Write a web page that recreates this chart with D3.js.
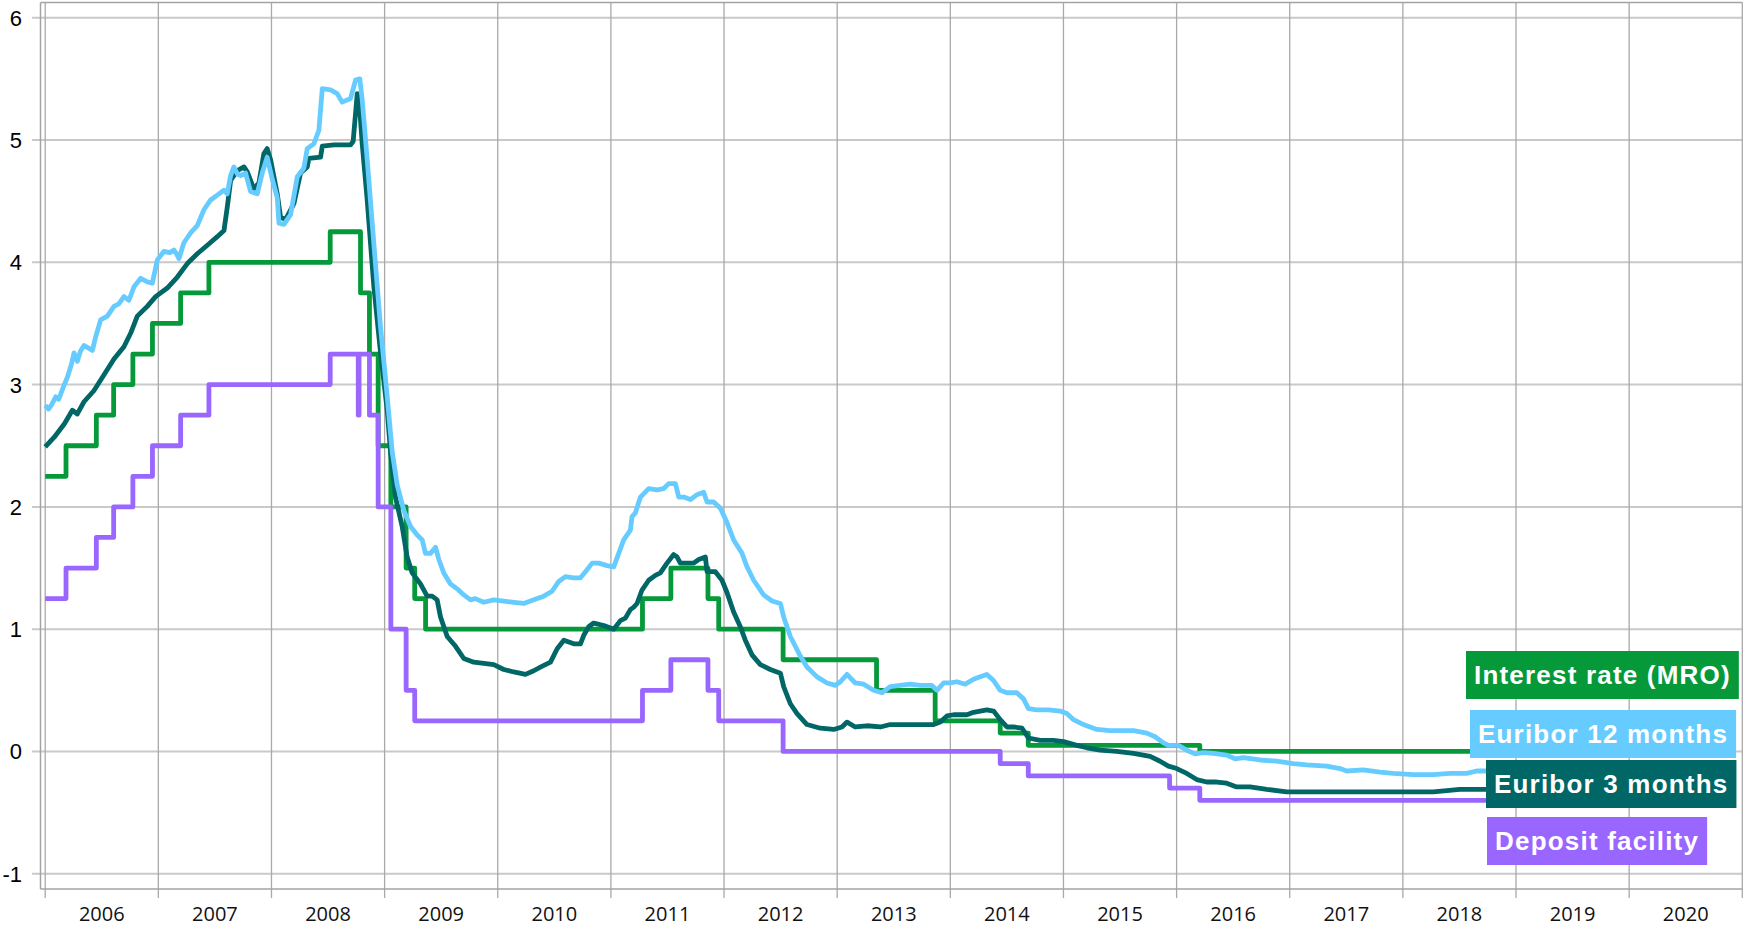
<!DOCTYPE html>
<html><head><meta charset="utf-8">
<script src="https://cdn.jsdelivr.net/npm/d3@7"></script>
<style>html,body{margin:0;padding:0;background:#fff;overflow:hidden}</style>
</head><body>
<svg id="chart" width="1743" height="929"></svg>
<script>
// ---------- data ----------
const yearLabels = [2006,2007,2008,2009,2010,2011,2012,2013,2014,2015,2016,2017,2018,2019,2020];
const yTicks = [-1,0,1,2,3,4,5,6];
const seriesNames = ["Interest rate (MRO)","Euribor 12 months","Euribor 3 months","Deposit facility"];
const seriesColors = ["#05993a","#66ccff","#006666","#9966ff"];

// Main refinancing operations rate (step changes: [decimal year, %])
const mroSteps = [[2006.0,2.25],[2006.184,2.50],[2006.452,2.75],[2006.605,3.00],[2006.775,3.25],[2006.948,3.50],
 [2007.197,3.75],[2007.447,4.00],[2008.519,4.25],[2008.787,3.75],[2008.866,3.25],[2008.943,2.50],[2009.055,2.00],
 [2009.19,1.50],[2009.266,1.25],[2009.362,1.00],[2011.279,1.25],[2011.53,1.50],[2011.858,1.25],[2011.953,1.00],
 [2012.522,0.75],[2013.348,0.50],[2013.866,0.25],[2014.441,0.15],[2014.689,0.05],[2016.205,0.00],[2018.9,0.00]];

// Deposit facility rate (step changes)
const depositSteps = [[2006.0,1.25],[2006.184,1.50],[2006.452,1.75],[2006.605,2.00],[2006.775,2.25],[2006.948,2.50],
 [2007.197,2.75],[2007.447,3.00],[2008.519,3.25],[2008.767,2.75],[2008.774,3.25],[2008.866,2.75],[2008.943,2.00],
 [2009.055,1.00],[2009.19,0.50],[2009.266,0.25],[2011.279,0.50],[2011.53,0.75],[2011.858,0.50],[2011.953,0.25],
 [2012.522,0.00],[2014.441,-0.10],[2014.689,-0.20],[2015.938,-0.30],[2016.205,-0.40],[2018.9,-0.40]];

// Euribor 12 months
const euribor12 = [[2006.0,2.83],[2006.03,2.80],[2006.06,2.84],[2006.093,2.90],[2006.12,2.88],[2006.16,2.98],[2006.196,3.06],
 [2006.23,3.16],[2006.255,3.26],[2006.284,3.19],[2006.31,3.27],[2006.343,3.32],[2006.38,3.30],[2006.417,3.28],[2006.446,3.39],
 [2006.49,3.53],[2006.549,3.56],[2006.608,3.64],[2006.65,3.66],[2006.696,3.72],[2006.74,3.69],[2006.785,3.80],[2006.844,3.87],
 [2006.902,3.84],[2006.947,3.83],[2006.991,4.02],[2007.05,4.09],[2007.10,4.08],[2007.138,4.10],[2007.16,4.07],[2007.182,4.03],
 [2007.226,4.16],[2007.285,4.24],[2007.344,4.30],[2007.403,4.43],[2007.462,4.51],[2007.521,4.55],[2007.58,4.59],[2007.609,4.56],
 [2007.639,4.71],[2007.668,4.78],[2007.70,4.72],[2007.727,4.71],[2007.771,4.73],[2007.815,4.58],[2007.874,4.56],[2007.918,4.73],
 [2007.962,4.86],[2008.007,4.68],[2008.051,4.53],[2008.066,4.32],[2008.11,4.31],[2008.169,4.39],[2008.228,4.70],[2008.286,4.77],
 [2008.316,4.93],[2008.375,4.97],[2008.419,5.08],[2008.449,5.42],[2008.522,5.41],[2008.581,5.38],[2008.625,5.31],[2008.699,5.34],
 [2008.743,5.49],[2008.781,5.50],[2008.802,5.33],[2008.846,4.84],[2008.905,4.15],[2008.964,3.47],[2009.023,2.90],[2009.067,2.45],
 [2009.111,2.18],[2009.17,1.97],[2009.229,1.84],[2009.288,1.77],[2009.332,1.73],[2009.361,1.62],[2009.405,1.62],[2009.45,1.67],
 [2009.479,1.57],[2009.523,1.46],[2009.582,1.37],[2009.641,1.33],[2009.70,1.28],[2009.759,1.24],[2009.80,1.25],[2009.877,1.22],
 [2009.965,1.24],[2010.053,1.23],[2010.142,1.22],[2010.23,1.21],[2010.318,1.24],[2010.407,1.27],[2010.48,1.31],[2010.539,1.39],
 [2010.598,1.43],[2010.672,1.42],[2010.731,1.42],[2010.775,1.47],[2010.834,1.54],[2010.893,1.54],[2010.966,1.52],[2011.025,1.51],
 [2011.069,1.62],[2011.113,1.73],[2011.172,1.81],[2011.187,1.92],[2011.216,1.95],[2011.261,2.08],[2011.334,2.15],[2011.408,2.14],
 [2011.467,2.15],[2011.511,2.19],[2011.57,2.19],[2011.60,2.08],[2011.644,2.08],[2011.703,2.06],[2011.761,2.10],[2011.82,2.12],
 [2011.85,2.04],[2011.908,2.04],[2011.967,1.99],[2012.027,1.87],[2012.085,1.73],[2012.159,1.62],[2012.203,1.51],[2012.262,1.40],
 [2012.35,1.28],[2012.424,1.23],[2012.498,1.21],[2012.527,1.10],[2012.586,0.94],[2012.674,0.78],[2012.733,0.69],[2012.822,0.61],
 [2012.91,0.56],[2012.984,0.54],[2013.028,0.57],[2013.087,0.63],[2013.16,0.56],[2013.234,0.55],[2013.322,0.50],[2013.396,0.48],
 [2013.469,0.53],[2013.558,0.54],[2013.646,0.55],[2013.734,0.54],[2013.837,0.54],[2013.882,0.50],[2013.941,0.56],[2014.0,0.56],
 [2014.058,0.57],[2014.132,0.55],[2014.205,0.59],[2014.264,0.61],[2014.323,0.63],[2014.382,0.58],[2014.441,0.50],[2014.50,0.48],
 [2014.588,0.48],[2014.647,0.43],[2014.691,0.35],[2014.765,0.34],[2014.868,0.34],[2014.971,0.33],[2015.03,0.31],[2015.089,0.26],
 [2015.177,0.22],[2015.295,0.18],[2015.413,0.17],[2015.531,0.17],[2015.62,0.17],[2015.736,0.15],[2015.81,0.12],[2015.884,0.07],
 [2015.928,0.05],[2016.016,0.05],[2016.09,0.01],[2016.163,-0.02],[2016.237,-0.01],[2016.325,-0.015],[2016.443,-0.03],
 [2016.517,-0.06],[2016.59,-0.05],[2016.738,-0.07],[2016.885,-0.08],[2017.032,-0.10],[2017.15,-0.11],[2017.326,-0.12],
 [2017.444,-0.14],[2017.503,-0.16],[2017.65,-0.15],[2017.798,-0.17],[2017.915,-0.18],[2018.092,-0.19],[2018.269,-0.19],
 [2018.416,-0.18],[2018.563,-0.18],[2018.651,-0.16],[2018.74,-0.16],[2018.9,-0.15]];

// Euribor 3 months
const euribor3 = [[2006.0,2.49],[2006.08,2.57],[2006.17,2.68],[2006.24,2.79],[2006.284,2.76],[2006.343,2.86],[2006.43,2.95],
 [2006.52,3.08],[2006.608,3.21],[2006.696,3.31],[2006.755,3.42],[2006.814,3.56],[2006.902,3.64],[2006.976,3.72],[2007.079,3.79],
 [2007.168,3.88],[2007.256,3.99],[2007.344,4.07],[2007.433,4.14],[2007.521,4.21],[2007.58,4.26],[2007.609,4.45],[2007.639,4.67],
 [2007.698,4.75],[2007.757,4.78],[2007.786,4.74],[2007.845,4.60],[2007.889,4.65],[2007.933,4.89],[2007.962,4.93],[2007.992,4.84],
 [2008.051,4.56],[2008.08,4.37],[2008.124,4.35],[2008.198,4.48],[2008.257,4.73],[2008.316,4.78],[2008.331,4.85],[2008.434,4.86],
 [2008.449,4.95],[2008.552,4.96],[2008.699,4.96],[2008.722,4.99],[2008.758,5.38],[2008.779,5.27],[2008.802,4.97],[2008.846,4.51],
 [2008.905,3.80],[2008.964,3.26],[2009.023,2.79],[2009.055,2.42],[2009.096,2.08],[2009.155,1.84],[2009.199,1.59],[2009.244,1.46],
 [2009.317,1.37],[2009.376,1.27],[2009.42,1.27],[2009.464,1.24],[2009.494,1.10],[2009.553,0.94],[2009.627,0.86],[2009.70,0.76],
 [2009.788,0.73],[2009.877,0.72],[2009.965,0.71],[2010.053,0.67],[2010.142,0.65],[2010.245,0.63],[2010.318,0.66],[2010.377,0.69],
 [2010.466,0.73],[2010.525,0.84],[2010.584,0.91],[2010.672,0.88],[2010.731,0.88],[2010.76,0.95],[2010.804,1.02],[2010.848,1.05],
 [2010.937,1.03],[2010.996,1.01],[2011.025,1.00],[2011.084,1.07],[2011.128,1.09],[2011.172,1.16],[2011.202,1.18],[2011.231,1.21],
 [2011.275,1.32],[2011.334,1.40],[2011.393,1.44],[2011.437,1.46],[2011.496,1.54],[2011.555,1.61],[2011.585,1.59],[2011.614,1.54],
 [2011.673,1.54],[2011.732,1.54],[2011.776,1.57],[2011.835,1.59],[2011.85,1.47],[2011.923,1.47],[2011.982,1.40],[2012.026,1.30],
 [2012.085,1.14],[2012.144,1.02],[2012.188,0.91],[2012.247,0.79],[2012.321,0.71],[2012.409,0.67],[2012.498,0.64],[2012.527,0.53],
 [2012.586,0.39],[2012.645,0.31],[2012.733,0.22],[2012.851,0.19],[2012.969,0.18],[2013.042,0.20],[2013.087,0.24],[2013.16,0.20],
 [2013.263,0.21],[2013.381,0.20],[2013.469,0.22],[2013.587,0.22],[2013.734,0.22],[2013.852,0.22],[2013.911,0.24],[2013.97,0.29],
 [2014.029,0.30],[2014.147,0.30],[2014.205,0.32],[2014.264,0.33],[2014.323,0.34],[2014.382,0.33],[2014.441,0.26],[2014.50,0.20],
 [2014.559,0.20],[2014.633,0.19],[2014.691,0.11],[2014.794,0.09],[2014.912,0.09],[2015.001,0.08],[2015.118,0.05],[2015.207,0.03],
 [2015.325,0.01],[2015.471,0.00],[2015.619,-0.015],[2015.766,-0.04],[2015.854,-0.08],[2015.928,-0.12],[2016.001,-0.14],
 [2016.09,-0.18],[2016.178,-0.23],[2016.266,-0.25],[2016.355,-0.25],[2016.443,-0.26],[2016.531,-0.29],[2016.649,-0.29],
 [2016.797,-0.31],[2016.973,-0.33],[2017.15,-0.33],[2017.385,-0.33],[2017.68,-0.33],[2017.974,-0.33],[2018.269,-0.33],
 [2018.504,-0.31],[2018.71,-0.31],[2018.9,-0.31]];

// ---------- drawing ----------
const svg = d3.select("#chart");
const x = d3.scaleLinear().domain([2006, 2021]).range([45.2, 1742.3]);
const y = d3.scaleLinear().domain([-1.125, 6.125]).range([889, 2.5]);
const plotLeft = 40.5, plotRight = x(2021), plotTop = y(6.125), plotBottom = y(-1.125);

// horizontal grid + y ticks
svg.append("g").selectAll("line").data(yTicks).join("line")
  .attr("x1", 32).attr("x2", plotRight)
  .attr("y1", d => y(d)).attr("y2", d => y(d))
  .attr("stroke", "#c9c9c9").attr("stroke-width", 2);

// vertical grid + x ticks
svg.append("g").selectAll("line").data(d3.range(2006, 2022)).join("line")
  .attr("x1", d => x(d)).attr("x2", d => x(d))
  .attr("y1", plotTop).attr("y2", plotBottom + 9)
  .attr("stroke", "#a9a9a9").attr("stroke-width", 1.3);

// frame: left axis, bottom axis, top border
const frame = svg.append("g").attr("stroke", "#a3a3a3").attr("stroke-width", 1.5);
frame.append("line").attr("x1", plotLeft).attr("x2", plotLeft).attr("y1", plotTop).attr("y2", plotBottom);
frame.append("line").attr("x1", plotLeft).attr("x2", plotRight).attr("y1", plotBottom).attr("y2", plotBottom);
frame.append("line").attr("x1", plotLeft).attr("x2", plotRight).attr("y1", plotTop).attr("y2", plotTop);

// y labels
svg.append("g").selectAll("text").data(yTicks).join("text")
  .attr("x", 22).attr("y", d => y(d)).attr("dy", "0.36em")
  .attr("text-anchor", "end")
  .style("font-family", "'Liberation Sans', Arial, sans-serif").style("font-size", "22px").attr("fill", "#000")
  .text(d => d);

// x labels (centred in each year)
svg.append("g").selectAll("text").data(yearLabels).join("text")
  .attr("x", d => x(d + 0.5)).attr("y", 921)
  .attr("text-anchor", "middle")
  .style("font-family", "'Open Sans', 'Noto Sans', sans-serif").style("font-size", "20px").attr("fill", "#111")
  .text(d => d);

// series lines
const stepLine = d3.line().x(d => x(d[0])).y(d => y(d[1])).curve(d3.curveStepAfter);
const smoothLine = d3.line().x(d => x(d[0])).y(d => y(d[1])).curve(d3.curveLinear);
const lines = svg.append("g").attr("fill", "none").attr("stroke-width", 4.8).attr("stroke-linejoin", "round");
lines.append("path").attr("d", stepLine(mroSteps)).attr("stroke", seriesColors[0]);
lines.append("path").attr("d", stepLine(depositSteps)).attr("stroke", seriesColors[3]);
lines.append("path").attr("d", smoothLine(euribor3)).attr("stroke", seriesColors[2]);
lines.append("path").attr("d", smoothLine(euribor12)).attr("stroke", seriesColors[1]);

// labels (boxes)
const labelLayout = [{i:0, x:1466, y:651},{i:1, x:1470, y:710},{i:2, x:1486, y:760},{i:3, x:1487, y:817}];
const lg = svg.append("g");
labelLayout.forEach(L => {
  const g = lg.append("g");
  const rect = g.append("rect").attr("x", L.x).attr("y", L.y).attr("height", 48).attr("fill", seriesColors[L.i]);
  const t = g.append("text").attr("x", L.x + 8).attr("y", L.y + 33)
    .style("font-family", "'Liberation Sans', Arial, sans-serif").style("font-size", "26px")
    .style("font-weight", "bold").style("letter-spacing", "1.2px").attr("fill", "#fff")
    .text(seriesNames[L.i]);
  const w = t.node().getComputedTextLength();
  rect.attr("width", w + 16);
});
</script>
</body></html>
